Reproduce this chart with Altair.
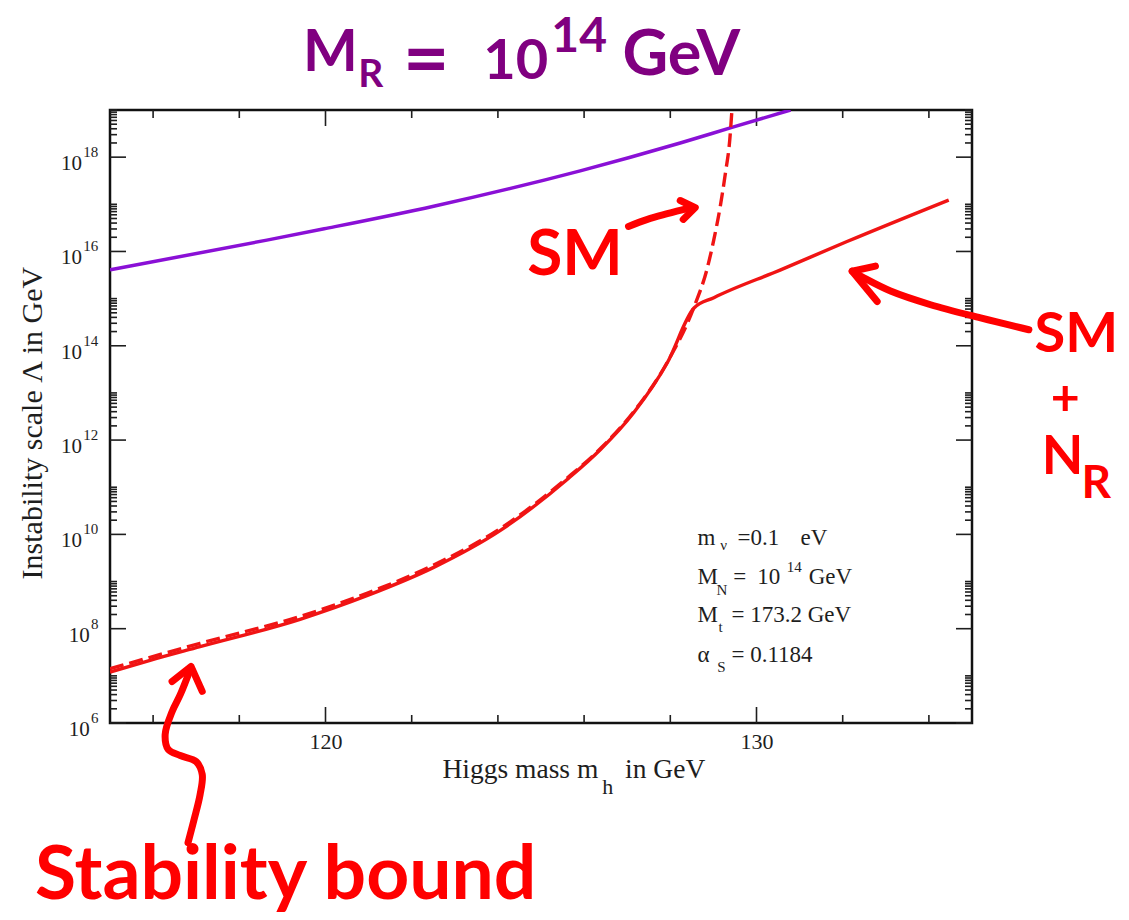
import altair as alt
import pandas as pd

# ---------------------------------------------------------------------------
# Instability scale Lambda (as log10 of GeV) versus the Higgs mass m_h (GeV)
# ---------------------------------------------------------------------------
# SM + heavy right-handed neutrinos (solid red)
sm_nr_mh = [115.0, 115.93, 117.09, 119.41, 120.96, 122.51, 124.05, 125.60,
            126.38, 127.15, 127.93, 128.55, 129.01, 130.56, 132.10, 134.46]
sm_nr_log = [7.08, 7.33, 7.62, 8.20, 8.70, 9.30, 10.08, 11.16,
             11.80, 12.58, 13.64, 14.80, 15.02, 15.61, 16.21, 17.09]

# Standard Model alone (dashed red)
sm_mh = [115.0, 117.09, 119.41, 120.96, 122.51, 124.05, 125.60, 126.38, 127.15,
         127.93, 128.55, 128.85, 129.01, 129.16, 129.28, 129.38, 129.43]
sm_log = [7.15, 7.69, 8.26, 8.75, 9.35, 10.12, 11.19, 11.82, 12.60,
          13.65, 14.82, 15.62, 16.25, 16.96, 17.67, 18.37, 19.00]

# Upper curve (solid violet)
upper_mh = [115.0, 118.64, 119.97, 122.51, 125.91, 128.23, 129.43, 130.79]
upper_log = [15.61, 16.24, 16.48, 16.96, 17.71, 18.30, 18.63, 19.00]

# Axis ticks
x_major = [120, 130]
x_minor = [116, 118, 122, 124, 126, 128, 132, 134]
y_major_exp = [6, 8, 10, 12, 14, 16, 18]
y_minor = [k * 10.0 ** e for e in y_major_exp for k in range(2, 11)]

# ---------------------------------------------------------------------------
RED = "#f01414"
INK = "#ff0000"
VIOLET = "#8a10d6"
PURPLE = "#800080"
DARK = "#1e1e1e"
W, H = 862, 613

X_SCALE = alt.Scale(domain=[115, 135], nice=False, zero=False)
Y_SCALE = alt.Scale(type="log", domain=[1e6, 1e19], nice=False)
X_AXIS = alt.Axis(values=x_major, ticks=False, domain=False, grid=False,
                  labelFont="Liberation Serif", labelFontSize=22, labelColor=DARK,
                  labelPadding=8, labelFlush=False, title=None)


def xenc():
    return alt.X("x:Q", scale=X_SCALE, axis=X_AXIS)


def yenc():
    return alt.Y("y:Q", scale=Y_SCALE, axis=None)


def curve(mh, logs):
    return pd.DataFrame({"x": mh, "y": [10.0 ** v for v in logs]})


def pieces(texts, mh, logs, sizes, color):
    return pd.DataFrame({"t": texts, "x": mh, "y": [10.0 ** v for v in logs],
                         "s": sizes, "c": color})


def text_layer(df, font, weight="normal", align="left", baseline="alphabetic",
               angle=None, dy=None):
    kw = dict(font=font, fontWeight=weight, align=align, baseline=baseline)
    if angle is not None:
        kw["angle"] = angle
    if dy is not None:
        kw["dy"] = dy
    return alt.Chart(df).mark_text(**kw).encode(
        x=xenc(), y=yenc(), text="t:N",
        size=alt.Size("s:Q", scale=None),
        color=alt.Color("c:N", scale=None),
    )


def path(mh, logs, group):
    return pd.DataFrame({"x": mh, "y": [10.0 ** v for v in logs],
                         "g": group, "i": list(range(len(mh)))})


# ---- inward ticks on all four sides ----
xt_major = pd.DataFrame({"x": x_major})
xt_minor = pd.DataFrame({"x": x_minor})
yt_major = pd.DataFrame({"y": [10.0 ** e for e in y_major_exp]})
yt_minor = pd.DataFrame({"y": y_minor})

tick = dict(color=DARK, strokeWidth=1.6)
ticks = [
    alt.Chart(xt_major).mark_rule(**tick).encode(x=xenc(), y=alt.value(H), y2=alt.value(H - 16)),
    alt.Chart(xt_major).mark_rule(**tick).encode(x=xenc(), y=alt.value(0), y2=alt.value(16)),
    alt.Chart(xt_minor).mark_rule(**tick).encode(x=xenc(), y=alt.value(H), y2=alt.value(H - 8)),
    alt.Chart(xt_minor).mark_rule(**tick).encode(x=xenc(), y=alt.value(0), y2=alt.value(8)),
    alt.Chart(yt_major).mark_rule(**tick).encode(y=yenc(), x=alt.value(0), x2=alt.value(16)),
    alt.Chart(yt_major).mark_rule(**tick).encode(y=yenc(), x=alt.value(W), x2=alt.value(W - 16)),
    alt.Chart(yt_minor).mark_rule(**tick).encode(y=yenc(), x=alt.value(0), x2=alt.value(7)),
    alt.Chart(yt_minor).mark_rule(**tick).encode(y=yenc(), x=alt.value(W), x2=alt.value(W - 7)),
]

# ---- curves ----
lines = [
    alt.Chart(curve(upper_mh, upper_log)).mark_line(
        color=VIOLET, strokeWidth=3.5, interpolate="monotone", clip=True
    ).encode(x=xenc(), y=yenc()),
    alt.Chart(curve(sm_nr_mh, sm_nr_log)).mark_line(
        color=RED, strokeWidth=3.4, interpolate="monotone", clip=True
    ).encode(x=xenc(), y=yenc()),
    alt.Chart(curve(sm_mh, sm_log)).mark_line(
        color=RED, strokeWidth=3.4, strokeDash=[14, 6], interpolate="monotone", clip=True
    ).encode(x=xenc(), y=yenc()),
]

# ---- y tick labels: "10" with a raised exponent ----
exp_text = [str(e) for e in y_major_exp]
ten_x = [114.53 if len(s) == 1 else 114.35 for s in exp_text]
exp_x = [114.56 if len(s) == 1 else 114.38 for s in exp_text]
tens = pieces(["10"] * len(exp_text), ten_x, y_major_exp, [21] * len(exp_text), DARK)
exps = pieces(exp_text, exp_x, y_major_exp, [15] * len(exp_text), DARK)

serif = "Liberation Serif"
labels = [
    text_layer(tens, serif, align="right", dy=13),
    text_layer(exps, serif, align="left"),
    # axis titles
    text_layer(pieces(["Instability scale \u039b in GeV"], [113.42], [12.36], [30], DARK),
               serif, align="center", angle=270),
    text_layer(pieces(["Higgs mass m"], [126.33], [4.84], [27.5], DARK), serif, align="right"),
    text_layer(pieces(["h", "in GeV"], [126.42, 126.95], [4.50, 4.84], [22, 27.5], DARK), serif),
    # parameter box
    text_layer(pieces(
        ["m", "\u03bd", "=0.1", "eV",
         "M", "N", "=", "10", "14", "GeV",
         "M", "t", "= 173.2 GeV",
         "\u03b1", "S", "= 0.1184"],
        [128.63, 129.16, 129.56, 131.02,
         128.63, 129.07, 129.46, 130.02, 130.70, 131.21,
         128.63, 129.12, 129.42,
         128.63, 129.09, 129.42],
        [9.785, 9.66, 9.785, 9.785,
         8.94, 8.725, 8.94, 8.94, 9.21, 8.94,
         8.152, 7.94, 8.152,
         7.30, 7.09, 7.30],
        [23, 15, 23, 23,
         23, 15, 23, 23, 15, 23,
         23, 15, 23,
         23, 15, 23],
        DARK), serif),
]

# ---- hand-written notes ----
hand = "Lato"
notes = [
    text_layer(pieces(["M", "R", "=", "10", "14", "GeV"],
                      [119.48, 120.76, 121.80, 123.66, 125.24, 126.89],
                      [19.82, 19.48, 19.50, 19.65, 20.24, 19.75],
                      [58, 39, 80, 56, 48, 63], PURPLE), hand, weight="bold"),
    text_layer(pieces(["SM", "SM", "+", "N", "R", "Stability bound"],
                      [124.68, 136.45, 136.83, 136.62, 137.54, 113.26],
                      [15.51, 13.86, 12.53, 11.27, 10.78, 2.26],
                      [64, 56, 50, 54, 46, 75], INK), hand, weight="bold"),
]

stems = pd.concat([
    path([127.03, 127.47, 127.93, 128.47], [16.53, 16.68, 16.80, 16.93], "sm"),
    path([136.32, 135.20, 134.04, 133.11, 132.49, 132.22],
         [14.34, 14.59, 14.87, 15.16, 15.44, 15.58], "nr"),
    path([116.81, 116.95, 117.09, 117.14, 117.00, 116.63, 116.35, 116.28, 116.44, 116.63, 116.86],
         [3.46, 3.95, 4.48, 4.91, 5.18, 5.31, 5.44, 5.76, 6.24, 6.60, 7.13], "stab"),
])
heads = pd.concat([
    path([128.23, 128.58, 128.30], [17.08, 16.93, 16.68], "sm"),
    path([132.76, 132.22, 132.80], [15.69, 15.58, 14.94], "nr"),
    path([116.44, 116.88, 117.14], [6.88, 7.20, 6.67], "stab"),
])
arrows = [
    alt.Chart(stems).mark_line(color=INK, strokeWidth=7, strokeCap="round",
                               strokeJoin="round", interpolate="catmull-rom").encode(
        x=xenc(), y=yenc(), detail="g:N", order="i:Q"),
    alt.Chart(heads).mark_line(color=INK, strokeWidth=7, strokeCap="round",
                               strokeJoin="round").encode(
        x=xenc(), y=yenc(), detail="g:N", order="i:Q"),
]

chart = alt.layer(*ticks, *lines, *labels, *arrows, *notes).properties(
    width=W, height=H,
    padding={"left": 110, "top": 110, "right": 157, "bottom": 197},
    autosize=alt.AutoSizeParams(type="none"),
    background="white",
).configure_view(stroke="#111111", strokeWidth=2.5)

chart.save("out.html", embed_options={"renderer": "svg", "actions": False})
